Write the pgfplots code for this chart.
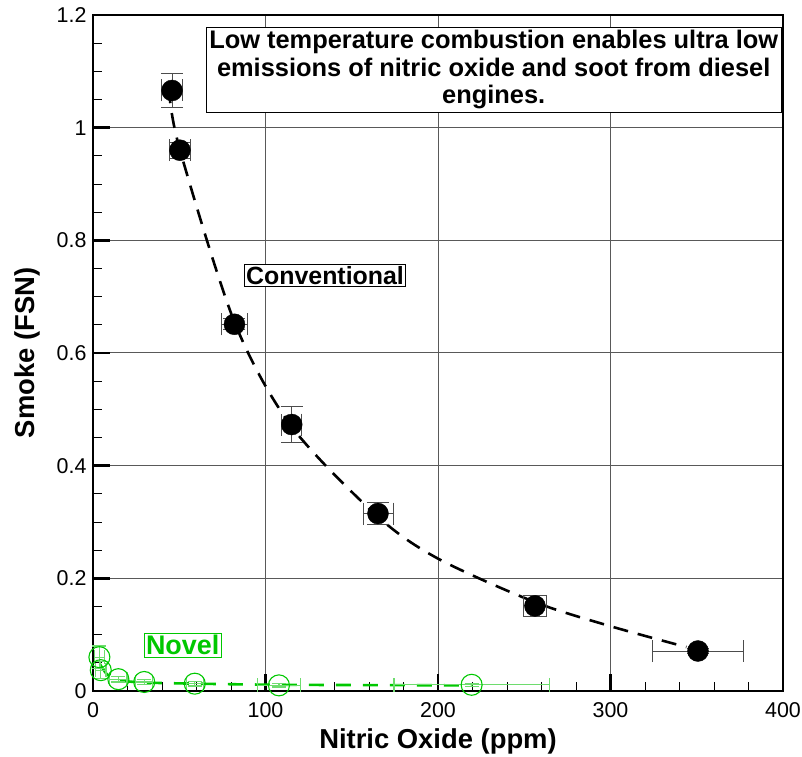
\documentclass[border=0pt]{standalone}
\usepackage{fontspec}
\setmainfont{Liberation Sans}
\usepackage{pgfplots}
\pgfplotsset{compat=1.18}
\usepackage{pgfplotstable}
\definecolor{novel}{RGB}{0,200,0}
\definecolor{novelerr}{RGB}{110,220,110}
\pgfplotstableread{
x y ex ey
45.8 1.066 6 0.030
50.4 0.960 6 0.014
82.0 0.651 7.4 0.010
115.2 0.473 5.8 0.032
165.2 0.315 8.7 0.020
256.2 0.151 6.6 0.018
350.7 0.071 26.5 0.004
}\conv
\pgfplotstableread{
x y ex ey
3.7 0.060 3 0.020
4.5 0.037 3 0.015
14.7 0.021 5 0.005
29.7 0.016 5 0.004
59.0 0.013 5 0.004
107.8 0.010 12.5 0.003
219.5 0.011 45 0.003
}\novel
\begin{document}
\begin{tikzpicture}
\begin{axis}[
  scale only axis, width=690bp, height=676bp,
  xmin=0, xmax=400, ymin=0, ymax=1.2,
  xtick={0,100,200,300,400},
  ytick={0,0.2,0.4,0.6,0.8,1,1.2},
  yticklabels={0,0.2,0.4,0.6,0.8,1,1.2},
  minor x tick num=4, minor y tick num=3,
  tick pos=left, tick align=inside,
  major tick length=17bp, minor tick length=9bp,
  every major tick/.append style={line width=2.5bp, black},
  every minor tick/.append style={line width=0.8bp, black},
  axis line style={line width=2.8bp},
  grid=major,
  major grid style={line width=1bp, black!65},
  /pgf/number format/assume math mode=true,
  ticklabel style={font=\fontsize{21.5}{21.5}\selectfont},
  xticklabel style={anchor=base, yshift=-26bp},
  yticklabel style={xshift=-3bp},
  xlabel={\textbf{Nitric Oxide (ppm)}},
  ylabel={\textbf{Smoke (FSN)}},
  xlabel style={font=\fontsize{27.5}{27.5}\selectfont, at={(axis description cs:0.5,0)}, anchor=base, yshift=-57bp},
  ylabel style={font=\fontsize{27.5}{27.5}\selectfont, at={(axis description cs:-0.0957,0.5)}, anchor=center},
  clip=false,
]
% conventional fit
\addplot[black, line width=2.6bp, dash pattern=on 15bp off 10bp, smooth, tension=0.5] coordinates {
(44,1.07) (50,0.965) (82,0.655) (115,0.47) (165,0.31) (200,0.235) (256,0.158) (300,0.115) (344,0.078)};
% novel fit
\addplot[novel, line width=2.6bp, dash pattern=on 15bp off 12bp, smooth, tension=0.4] coordinates {
(4,0.048) (8,0.03) (15,0.019) (30,0.015) (60,0.013) (110,0.011) (220,0.010)};
% conventional data
\addplot[only marks, mark=*, mark size=10.5bp, black,
  error bars/.cd, x dir=both, x explicit, y dir=both, y explicit,
  error bar style={line width=0.9bp, black!70},
  error mark options={rotate=90, mark size=11bp, line width=0.9bp, black!70}]
  table[x=x, y=y, x error=ex, y error=ey] {\conv};
% novel data
\addplot[only marks, mark=o, mark size=10.5bp, novel, mark options={line width=1.1bp},
  error bars/.cd, x dir=both, x explicit, y dir=both, y explicit,
  error bar style={line width=1.2bp, novelerr},
  error mark options={rotate=90, mark size=7bp, line width=1.2bp, novelerr}]
  table[x=x, y=y, x error=ex, y error=ey] {\novel};
\node[draw=black, line width=0.8bp, fill=white, inner sep=2bp, font=\fontsize{25}{25}\selectfont\bfseries] at (axis cs:134.5,0.738) {Conventional};
\node[draw=novel, line width=0.8bp, fill=white, inner sep=2bp, text=novel, font=\fontsize{27}{27}\selectfont\bfseries] at (axis cs:52,0.081) {Novel};
\node[draw=black, line width=0.8bp, fill=white, inner sep=3bp, align=center, font=\fontsize{25.5}{27.5}\selectfont\bfseries] at (axis cs:232.3,1.1027) {Low temperature combustion enables ultra low\\emissions of nitric oxide and soot from diesel\\engines.};
\end{axis}
\pgfresetboundingbox
\useasboundingbox (-93bp,-66bp) rectangle (709bp,691bp);
\end{tikzpicture}
\end{document}
